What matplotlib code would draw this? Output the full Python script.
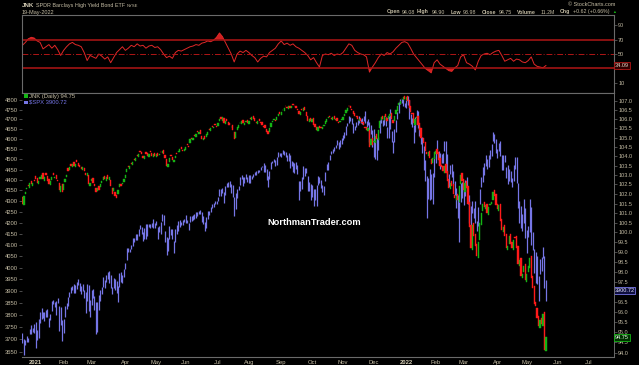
import numpy as np
import pandas as pd
import matplotlib
matplotlib.use('Agg')
import matplotlib.pyplot as plt
from matplotlib.patches import Rectangle
from matplotlib.ticker import FixedLocator, FuncFormatter, NullLocator

plt.rcParams['font.family'] = ['Liberation Sans', 'DejaVu Sans']

# ---- data: daily bars 18-Dec-2020 .. 19-May-2022 (one line per month) ----
spx_high = [
    3726, 3702, 3698, 3711, 3703, 3740, 3756, 3744, 3760,
    3770, 3737, 3783, 3811, 3826, 3812, 3811, 3820, 3823, 3788, 3804, 3859, 3861, 3852, 3859, 3870, 3836, 3830, 3778,
    3784, 3838, 3848, 3872, 3894, 3916, 3919, 3931, 3925, 3937, 3950, 3934, 3921, 3931, 3903, 3895, 3928, 3925, 3861,
    3903, 3906, 3879, 3853, 3851, 3881, 3903, 3918, 3960, 3945, 3969, 3982, 3983, 3969, 3917, 3956, 3949, 3942, 3919, 3978, 3981, 3969, 3994,
    4020, 4084, 4086, 4083, 4098, 4129, 4131, 4149, 4151, 4173, 4191, 4180, 4160, 4175, 4195, 4194, 4192, 4193, 4201, 4218, 4199,
    4209, 4179, 4187, 4202, 4238, 4237, 4162, 4135, 4132, 4184, 4172, 4170, 4118, 4172, 4188, 4210, 4214, 4202, 4213, 4218,
    4234, 4212, 4198, 4233, 4232, 4236, 4238, 4249, 4249, 4256, 4257, 4251, 4232, 4204, 4226, 4256, 4255, 4271, 4286, 4292, 4300, 4302,
    4321, 4356, 4357, 4361, 4345, 4372, 4386, 4392, 4394, 4379, 4376, 4319, 4337, 4359, 4369, 4415, 4423, 4415, 4415, 4430, 4412,
    4423, 4423, 4417, 4430, 4440, 4442, 4450, 4449, 4461, 4468, 4480, 4472, 4454, 4418, 4444, 4489, 4493, 4501, 4499, 4513, 4537, 4532,
    4531, 4545, 4539, 4536, 4522, 4529, 4520, 4492, 4486, 4481, 4486, 4471, 4394, 4394, 4416, 4466, 4456, 4457, 4419, 4390, 4382,
    4375, 4355, 4356, 4374, 4417, 4412, 4401, 4374, 4372, 4439, 4475, 4487, 4520, 4540, 4551, 4559, 4572, 4598, 4584, 4598, 4608,
    4620, 4635, 4664, 4681, 4718, 4714, 4708, 4684, 4664, 4688, 4697, 4715, 4702, 4708, 4717, 4744, 4691, 4702, 4686, 4672, 4646,
    4652, 4595, 4608, 4612, 4695, 4705, 4697, 4713, 4710, 4660, 4716, 4752, 4641, 4591, 4651, 4697, 4740, 4791, 4808, 4805, 4809, 4787,
    4800, 4819, 4798, 4726, 4708, 4673, 4714, 4749, 4745, 4666, 4612, 4611, 4564, 4495, 4417, 4408, 4454, 4429, 4432, 4516,
    4547, 4596, 4542, 4530, 4528, 4530, 4589, 4589, 4528, 4427, 4473, 4476, 4442, 4395, 4363, 4327, 4295, 4385, 4390,
    4375, 4401, 4416, 4331, 4327, 4276, 4299, 4269, 4302, 4209, 4271, 4358, 4412, 4465, 4481, 4522, 4502, 4521, 4546, 4575, 4637, 4627, 4603,
    4549, 4583, 4593, 4521, 4521, 4521, 4462, 4471, 4453, 4444, 4410, 4471, 4512, 4512, 4386, 4299, 4278, 4240, 4309, 4269,
    4169, 4187, 4308, 4271, 4158, 4082, 4068, 4050, 3964, 4038, 4047, 4090, 4050, 3946,
]
spx_low = [
    3685, 3636, 3676, 3689, 3689, 3723, 3723, 3730, 3726,
    3663, 3695, 3705, 3764, 3783, 3785, 3776, 3792, 3792, 3749, 3780, 3816, 3845, 3830, 3797, 3847, 3732, 3756, 3694,
    3725, 3792, 3824, 3835, 3874, 3892, 3902, 3890, 3890, 3906, 3923, 3900, 3885, 3898, 3868, 3805, 3858, 3814, 3790,
    3842, 3868, 3818, 3723, 3730, 3819, 3859, 3885, 3918, 3914, 3937, 3949, 3935, 3914, 3885, 3910, 3902, 3889, 3854, 3917, 3939, 3934, 3960,
    3992, 4034, 4068, 4068, 4082, 4095, 4114, 4124, 4120, 4140, 4171, 4150, 4119, 4126, 4126, 4139, 4181, 4176, 4181, 4177, 4174,
    4188, 4128, 4158, 4147, 4208, 4188, 4111, 4056, 4074, 4126, 4143, 4126, 4062, 4114, 4151, 4163, 4182, 4188, 4188, 4203,
    4197, 4198, 4168, 4203, 4209, 4213, 4219, 4224, 4233, 4238, 4240, 4202, 4196, 4164, 4175, 4217, 4237, 4248, 4266, 4274, 4287, 4285,
    4300, 4322, 4326, 4336, 4290, 4329, 4365, 4367, 4366, 4340, 4321, 4233, 4265, 4316, 4351, 4376, 4406, 4370, 4388, 4406, 4389,
    4385, 4387, 4403, 4416, 4425, 4425, 4432, 4438, 4448, 4461, 4437, 4438, 4400, 4367, 4406, 4453, 4482, 4486, 4469, 4474, 4512, 4518,
    4513, 4524, 4522, 4513, 4493, 4493, 4457, 4466, 4438, 4435, 4454, 4427, 4306, 4347, 4355, 4405, 4418, 4436, 4346, 4346, 4306,
    4317, 4278, 4305, 4279, 4378, 4386, 4361, 4342, 4330, 4394, 4447, 4447, 4496, 4524, 4529, 4541, 4555, 4569, 4551, 4562, 4575,
    4595, 4604, 4621, 4664, 4681, 4694, 4675, 4630, 4648, 4659, 4672, 4682, 4684, 4676, 4691, 4680, 4659, 4670, 4587, 4626, 4560,
    4510, 4504, 4496, 4547, 4631, 4683, 4667, 4671, 4666, 4608, 4607, 4651, 4587, 4531, 4584, 4638, 4703, 4734, 4781, 4784, 4768, 4766,
    4759, 4775, 4700, 4679, 4663, 4582, 4638, 4710, 4654, 4614, 4576, 4530, 4449, 4395, 4222, 4309, 4305, 4309, 4287, 4415,
    4484, 4551, 4470, 4455, 4482, 4480, 4539, 4473, 4415, 4365, 4429, 4413, 4378, 4328, 4268, 4222, 4114, 4297, 4316,
    4280, 4322, 4361, 4285, 4199, 4157, 4245, 4223, 4200, 4161, 4187, 4287, 4367, 4390, 4424, 4469, 4455, 4465, 4501, 4517, 4589, 4582, 4530,
    4507, 4539, 4514, 4450, 4450, 4486, 4408, 4381, 4394, 4392, 4367, 4395, 4455, 4385, 4267, 4201, 4175, 4162, 4199, 4131,
    4062, 4134, 4159, 4099, 4076, 3976, 3935, 3928, 3859, 3973, 3983, 4040, 3912, 3859,
]
jnk_open = [
    101.85, 101.4, 102.0, 102.25, 102.45, 102.3, 102.7, 102.4, 102.75,
    102.95, 102.85, 102.5, 102.8, 102.8, 103.1, 102.7, 103.1, 102.95, 102.8, 102.45, 102.75, 103.1, 102.85, 103.0, 102.75, 102.6, 102.1, 102.5,
    102.2, 102.65, 102.9, 103.35, 103.25, 103.6, 103.45, 103.7, 103.45, 103.8, 103.65, 103.55, 103.45, 103.25, 103.35, 103.1, 102.95, 103.0, 102.4,
    102.7, 102.85, 102.55, 102.3, 102.15, 102.4, 102.35, 102.6, 102.75, 102.95, 102.7, 103.0, 102.75, 102.75, 102.3, 102.15, 102.1, 101.95, 102.0, 102.35, 102.55, 102.5, 102.65,
    102.85, 103.15, 103.5, 103.3, 103.65, 103.55, 103.85, 103.75, 104.05, 103.95, 104.3, 104.25, 104.0, 103.85, 104.2, 104.15, 103.95, 104.3, 104.15, 103.95, 104.15,
    103.95, 104.15, 104.05, 104.25, 104.15, 104.35, 104.05, 103.85, 103.45, 103.7, 104.05, 103.95, 103.7, 103.9, 104.15, 104.2, 104.25, 104.5, 104.35, 104.3,
    104.35, 104.65, 104.55, 104.7, 105.0, 104.85, 105.15, 105.05, 105.35, 105.2, 105.4, 105.1, 104.85, 105.1, 105.05, 105.15, 105.45, 105.35, 105.65, 105.5, 105.75, 105.65,
    105.65, 105.9, 106.1, 105.9, 106.05, 105.75, 106.0, 105.85, 105.8, 105.6, 105.7, 105.3, 105.0, 105.4, 105.5, 105.8, 105.75, 105.95, 105.7, 105.85, 105.95,
    105.75, 106.05, 105.95, 106.15, 106.05, 105.85, 105.75, 106.0, 105.85, 105.85, 105.65, 105.7, 105.45, 105.35, 105.3, 105.6, 105.85, 105.95, 105.95, 105.95, 106.2, 106.4,
    106.25, 106.5, 106.45, 106.75, 106.65, 106.55, 106.75, 106.6, 106.85, 106.75, 106.75, 106.55, 106.45, 106.25, 106.55, 106.45, 106.65, 106.4, 106.15, 105.85, 106.05,
    105.85, 106.05, 105.75, 105.55, 105.35, 105.65, 105.6, 105.45, 105.65, 105.75, 105.85, 106.05, 106.2, 106.05, 105.95, 106.15, 105.95, 106.05, 105.85, 105.85, 105.95,
    105.95, 106.2, 106.35, 106.45, 106.75, 106.75, 106.55, 106.45, 106.35, 106.15, 106.15, 105.9, 106.05, 105.85, 105.85, 105.6, 105.55, 105.35, 105.4, 104.6, 105.0,
    104.75, 104.7, 105.2, 104.85, 105.5, 105.95, 106.15, 105.95, 106.3, 106.05, 106.0, 106.15, 106.35, 105.95, 105.9, 106.3, 106.45, 106.8, 106.85, 107.1, 107.05, 107.25,
    107.05, 107.25, 107.05, 106.7, 106.35, 106.35, 105.7, 106.05, 106.2, 105.8, 105.5, 104.95, 105.0, 104.75, 104.25, 104.0, 104.3, 103.85, 103.65, 103.85,
    104.1, 104.4, 104.2, 103.9, 103.55, 103.5, 103.1, 103.6, 103.2, 102.8, 102.25, 102.7, 102.5, 101.95, 101.7, 102.0, 101.6, 102.5, 103.1,
    102.8, 102.1, 102.7, 102.4, 101.6, 100.4, 99.1, 100.5, 99.9, 99.4, 98.7, 99.6, 100.4, 101.1, 101.6, 101.2, 101.5, 100.9, 101.4, 101.45, 101.7, 102.2, 102.0,
    101.5, 101.1, 101.5, 100.7, 100.0, 100.4, 99.9, 99.1, 99.4, 99.9, 99.5, 99.1, 99.75, 99.8, 99.3, 98.3, 98.7, 97.7, 98.0, 98.4,
    97.5, 98.0, 98.2, 98.8, 97.8, 97.3, 96.5, 96.2, 95.8, 95.2, 95.7, 95.3, 96.0, 94.08,
]
jnk_close = [
    101.5, 101.9, 102.1, 102.3, 102.4, 102.6, 102.5, 102.6, 102.7,
    102.8, 102.6, 102.7, 102.9, 103.0, 102.8, 102.9, 103.0, 102.7, 102.5, 102.7, 102.9, 103.0, 102.9, 102.8, 102.7, 102.2, 102.4, 102.1,
    102.5, 102.8, 103.0, 103.2, 103.4, 103.5, 103.6, 103.5, 103.6, 103.7, 103.5, 103.4, 103.3, 103.4, 103.2, 103.0, 103.1, 102.5, 102.6,
    102.8, 102.6, 102.4, 102.1, 102.3, 102.2, 102.5, 102.7, 102.9, 102.8, 102.9, 102.8, 102.9, 102.4, 102.0, 102.3, 101.9, 101.8, 102.2, 102.5, 102.4, 102.6, 102.8,
    103.0, 103.3, 103.4, 103.5, 103.6, 103.7, 103.8, 103.9, 104.0, 104.1, 104.2, 104.1, 103.9, 104.0, 104.1, 104.0, 104.1, 104.2, 104.0, 104.1, 104.0,
    104.1, 104.0, 104.1, 104.2, 104.3, 104.1, 103.9, 103.5, 103.6, 103.9, 104.0, 103.8, 103.8, 104.0, 104.1, 104.3, 104.4, 104.4, 104.3, 104.4,
    104.5, 104.6, 104.5, 104.9, 104.9, 105.0, 105.1, 105.2, 105.3, 105.3, 105.2, 104.9, 105.0, 104.9, 105.2, 105.3, 105.4, 105.5, 105.6, 105.6, 105.7, 105.6,
    105.8, 106.0, 106.0, 106.1, 105.8, 105.9, 105.9, 105.7, 105.7, 105.6, 105.4, 104.9, 105.3, 105.6, 105.7, 105.8, 105.9, 105.8, 105.8, 105.9, 105.8,
    105.9, 106.0, 106.1, 106.0, 105.9, 105.8, 105.9, 105.9, 105.8, 105.7, 105.6, 105.5, 105.3, 105.2, 105.5, 105.8, 105.9, 106.0, 105.9, 106.1, 106.3, 106.3,
    106.4, 106.5, 106.6, 106.7, 106.6, 106.7, 106.6, 106.7, 106.8, 106.7, 106.6, 106.5, 106.3, 106.4, 106.5, 106.6, 106.5, 106.2, 105.9, 106.0, 105.9,
    106.0, 105.7, 105.6, 105.4, 105.6, 105.5, 105.5, 105.6, 105.7, 105.9, 106.0, 106.1, 106.1, 106.0, 106.1, 106.0, 106.0, 105.9, 105.8, 105.9, 106.0,
    106.1, 106.3, 106.5, 106.6, 106.7, 106.6, 106.5, 106.3, 106.2, 106.1, 106.0, 106.0, 105.9, 105.8, 105.7, 105.5, 105.4, 105.5, 104.5, 104.9, 104.6,
    104.8, 105.1, 104.9, 105.4, 105.9, 106.1, 106.0, 106.2, 106.1, 105.9, 106.2, 106.3, 106.0, 105.8, 106.2, 106.5, 106.7, 106.9, 107.0, 107.1, 107.2, 107.1,
    107.2, 107.0, 106.6, 106.4, 106.3, 105.8, 106.0, 106.1, 105.7, 105.4, 105.0, 104.9, 104.7, 104.3, 104.1, 104.2, 103.9, 103.6, 103.9, 104.2,
    104.3, 104.1, 103.8, 103.5, 103.4, 103.2, 103.5, 103.1, 102.7, 102.3, 102.6, 102.4, 102.0, 101.8, 101.9, 101.7, 102.4, 103.0, 102.7,
    102.2, 102.6, 102.3, 101.5, 100.3, 99.2, 100.4, 99.8, 99.3, 98.8, 99.5, 100.5, 101.0, 101.5, 101.3, 101.4, 101.0, 101.3, 101.5, 101.6, 102.1, 101.9, 101.4,
    101.2, 101.4, 100.6, 100.1, 100.3, 99.8, 99.2, 99.3, 99.8, 99.4, 99.2, 99.6, 99.7, 99.2, 98.4, 98.6, 97.8, 97.9, 98.3, 97.6,
    97.9, 98.3, 98.7, 97.7, 97.2, 96.4, 96.3, 95.7, 95.3, 95.6, 95.4, 95.9, 94.13, 94.75,
]
# RSI(14) of JNK, read every second trading day
rsi_vals = [
    62, 66, 71, 73, 72, 68, 66, 57, 60, 63, 58, 62, 56, 48, 55, 60, 64, 66, 63, 62,
    60, 52, 41, 48, 46, 44, 50, 47, 43, 46, 38, 45, 52, 56, 60, 55, 58, 62, 60, 64,
    61, 62, 58, 61, 62, 59, 60, 56, 50, 45, 47, 44, 52, 55, 54, 56, 58, 60, 61, 63,
    62, 65, 66, 68, 67, 69, 73, 79, 74, 66, 58, 50, 39, 50, 54, 52, 55, 52, 48, 45,
    39, 44, 47, 46, 52, 55, 58, 64, 68, 63, 65, 62, 64, 60, 58, 55, 52, 48, 42, 45,
    38, 32, 48, 50, 49, 51, 48, 50, 49, 52, 58, 64, 62, 55, 52, 50, 49, 46, 25, 32,
    38, 45, 50, 48, 52, 50, 53, 58, 62, 66, 67, 65, 58, 50, 45, 40, 35, 30, 27, 24,
    38, 42, 36, 33, 30, 27, 26, 31, 34, 46, 49, 38, 36, 33, 28, 40, 48, 50, 51, 49,
    52, 54, 55, 48, 40, 42, 44, 40, 43, 42, 39, 38, 41, 46, 36, 33, 32, 31, 34.09,
]
# right-axis labels (97.0 sits under the $SPX value box)
jnk_ticks = [94.0, 94.5, 95.0, 95.5, 96.0, 96.5, 97.5, 98.0, 98.5, 99.0, 99.5, 100.0,
             100.5, 101.0, 101.5, 102.0, 102.5, 103.0, 103.5, 104.0, 104.5, 105.0,
             105.5, 106.0, 106.5, 107.0]
holidays = ['2020-12-25', '2021-01-01', '2021-01-18', '2021-02-15', '2021-04-02',
            '2021-05-31', '2021-07-05', '2021-09-06', '2021-11-25', '2021-12-24',
            '2022-01-17', '2022-02-21', '2022-04-15', '2022-05-30', '2022-06-20',
            '2022-07-04']

days = pd.bdate_range('2020-12-18', '2022-08-31', freq='C', holidays=holidays)
n = min(len(jnk_close), len(jnk_open), len(spx_high), len(spx_low))
x = np.arange(n)
spx_high = np.array(spx_high[:n], float)
spx_low = np.array(spx_low[:n], float)
jc = np.array(jnk_close[:n], float)
jo = np.array(jnk_open[:n], float)
rsi = np.array(rsi_vals, float)
xr = np.arange(0, 2 * len(rsi), 2)

# month tick positions (first trading day of month)
months = pd.date_range('2021-01-01', '2022-07-01', freq='MS')
mpos = [int(np.searchsorted(days.values, np.datetime64(m))) for m in months]
mlab = [str(m.year) if m.month == 1 else m.strftime('%b') for m in months]

BG = 'black'
TXT = '#c4bca4'
FRAME = '#6a6a6a'
RED = '#ff1a1a'
GREEN = '#14b414'
BLUE = '#7676e6'
DRED = '#b01616'

W, H = 639.0, 365.0
def box(l, t, r, b):
    return [l / W, 1 - b / H, (r - l) / W, (b - t) / H]

def fx(px):
    return px / W

def fy(py):
    return 1 - py / H

fig = plt.figure(figsize=(6.39, 3.65), dpi=100, facecolor=BG)
ax_r = fig.add_axes(box(22, 15, 614, 93))
ax_m = fig.add_axes(box(22, 93, 614, 357), sharex=ax_r)
ax_j = ax_m.twinx()

for a in (ax_r, ax_m):
    a.set_facecolor(BG)

# ---- RSI panel ----
ax_r.plot(xr, rsi, color='#e02828', lw=0.7)
ax_r.fill_between(xr, rsi, 70, where=rsi >= 70, interpolate=True, color='#d02020', lw=0)
ax_r.fill_between(xr, rsi, 30, where=rsi <= 30, interpolate=True, color='#d02020', lw=0)
ax_r.axhline(70, color=DRED, lw=1.1)
ax_r.axhline(30, color=DRED, lw=1.1)
ax_r.axhline(50, color=DRED, lw=0.7, dashes=(6, 2, 1, 2))
ax_r.set_ylim(-3.8, 103.8)
ax_r.yaxis.tick_right()
ax_r.yaxis.set_major_locator(FixedLocator([10, 30, 50, 70, 90]))
ax_r.tick_params(axis='y', length=2, width=0.5, color=FRAME, labelsize=4, labelcolor=TXT, pad=1)
ax_r.tick_params(axis='x', which='both', bottom=False, labelbottom=False)
for s in ax_r.spines.values():
    s.set_color(FRAME)
    s.set_linewidth(0.8)

# ---- main panel: $SPX bars (left, log) ----
ax_m.vlines(x, spx_low, spx_high, colors=BLUE, lw=0.9)
ax_m.set_yscale('log')
ax_m.set_ylim(3629, 4837)
ax_m.yaxis.set_major_locator(FixedLocator(np.arange(3650, 4801, 50)))
ax_m.yaxis.set_minor_locator(NullLocator())
ax_m.yaxis.set_major_formatter(FuncFormatter(lambda v, p: '%d' % round(v)))
ax_m.tick_params(axis='y', length=2, width=0.5, color=FRAME, labelsize=4.2, labelcolor=TXT, pad=0.8)
ax_m.set_xticks(mpos)
ax_m.set_xticklabels(mlab)
ax_m.tick_params(axis='x', length=0, labelsize=4.2, labelcolor=TXT, pad=2.5)
for lab in ax_m.get_xticklabels():
    if lab.get_text().isdigit():
        lab.set_fontweight('bold')
        lab.set_color('#d8d0b8')
ax_m.set_xlim(-0.3, 402.3)
ax_m.spines['left'].set_visible(False)
ax_m.spines['right'].set_visible(False)
ax_m.spines['top'].set_color(FRAME)
ax_m.spines['bottom'].set_color(FRAME)
ax_m.spines['top'].set_linewidth(0.8)
ax_m.spines['bottom'].set_linewidth(0.8)

# ---- JNK candles (right, log) ----
lo = np.minimum(jo, jc)
hi = np.maximum(jo, jc)
cols = [GREEN if c >= o else RED for o, c in zip(jo, jc)]
ax_j.bar(x, hi - lo, bottom=lo, width=0.85, color=cols, edgecolor=cols, lw=0.3)
ax_j.set_yscale('log')
ax_j.set_ylim(93.79, 107.44)
ax_j.yaxis.set_major_locator(FixedLocator(jnk_ticks))
ax_j.yaxis.set_minor_locator(NullLocator())
ax_j.yaxis.set_major_formatter(FuncFormatter(lambda v, p: '%.1f' % v))
ax_j.tick_params(axis='y', length=2, width=0.5, color=FRAME, labelsize=4, labelcolor=TXT, pad=1)
for k in ('left', 'top', 'bottom'):
    ax_j.spines[k].set_visible(False)
ax_j.spines['right'].set_color(FRAME)
ax_j.spines['right'].set_linewidth(0.7)
ax_j.spines['right'].set_linestyle((0, (1, 1)))

# ---- value boxes on right axis ----
ax_r.text(1.002, rsi[-1], '%.2f' % rsi[-1], transform=ax_r.get_yaxis_transform(),
          fontsize=4, color='#e8e0d0', ha='left', va='center', zorder=10,
          bbox=dict(boxstyle='square,pad=0.15', fc='#300000', ec=DRED, lw=0.6))
ax_m.text(1.001, 3900.72, '3900.72', transform=ax_m.get_yaxis_transform(),
          fontsize=4, color='#e8e8ff', ha='left', va='center', zorder=10,
          bbox=dict(boxstyle='square,pad=0.15', fc='#101040', ec=BLUE, lw=0.6))
ax_j.text(1.002, jc[-1], '%.2f' % jc[-1], transform=ax_j.get_yaxis_transform(),
          fontsize=4, color='#e8ffe8', ha='left', va='center', zorder=10,
          bbox=dict(boxstyle='square,pad=0.15', fc='#003000', ec=GREEN, lw=0.6))

# ---- legend in main panel ----
fig.patches.append(Rectangle((fx(23.5), fy(98)), 4 / W, 4 / H, transform=fig.transFigure,
                             fc=GREEN, ec='none'))
fig.patches.append(Rectangle((fx(23.5), fy(104)), 4 / W, 3 / H, transform=fig.transFigure,
                             fc=BLUE, ec='none'))
fig.text(fx(29), fy(96.3), 'JNK (Daily) 94.75', fontsize=4.2, color=TXT, va='center')
fig.text(fx(29), fy(102.3), '$SPX 3900.72', fontsize=4.2, color=BLUE, va='center')

# ---- header texts ----
fig.text(fx(22), fy(5.5), 'JNK', fontsize=4.5, fontweight='bold', color='#d8d0b8', va='center')
fig.text(fx(36), fy(5.5), 'SPDR Barclays High Yield Bond ETF', fontsize=3.9, color=TXT, va='center')
fig.text(fx(127), fy(5.8), 'NYSE', fontsize=3.0, color=TXT, va='center')
fig.text(fx(22), fy(12.2), '19-May-2022', fontsize=4.0, color=TXT, va='center')
fig.text(fx(615), fy(4.5), '\u00a9 StockCharts.com', fontsize=4.0, color=TXT, va='center', ha='right')

hdr = [(387, 'Open', True), (402, '94.08', False), (417, 'High', True), (432, '94.90', False),
       (451, 'Low', True), (463, '93.98', False), (482, 'Close', True), (499, '94.75', False),
       (517, 'Volume', True), (541, '11.2M', False), (560, 'Chg', True),
       (573, '+0.62 (+0.66%)', False)]
for px, s, b in hdr:
    fig.text(fx(px), fy(12), s, fontsize=3.8, color=TXT, va='center',
             fontweight='bold' if b else 'normal')
fig.text(fx(614.5), fy(12), '\u25b2', fontsize=2.8, color=GREEN, va='center', ha='center')

fig.text(fx(314), fy(222), 'NorthmanTrader.com', fontsize=6.7, fontweight='bold',
         color='white', ha='center', va='center')

fig.savefig('out.png', dpi=100, facecolor=BG)
